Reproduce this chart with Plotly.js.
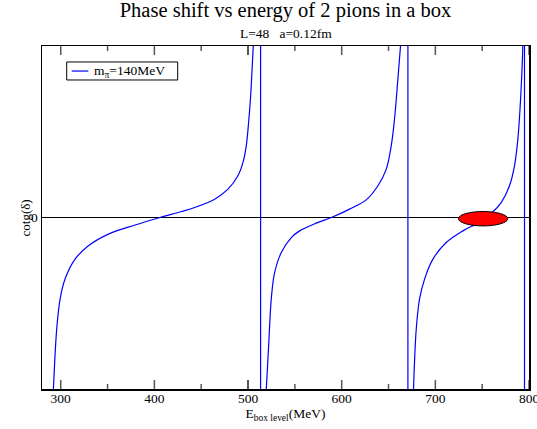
<!DOCTYPE html>
<html>
<head>
<meta charset="utf-8">
<script src="https://cdn.plot.ly/plotly-3.0.1.min.js"></script>
<style>html,body{margin:0;padding:0;background:#fff;}#chart{width:537px;height:429px;}</style>
</head>
<body>
<div id="chart"></div>
<script>
// Energy of the box level (MeV) and cotg(delta); null separates branches
const energyMeV = [
  292.2, 295.7, 299.3, 304.6, 315.3, 329.5, 350.9, 379.3, 406.0, 429.1, 443.0, 464.3, 478.6, 489.2, 494.6, 498.1, 500.6, 502.8, 504.5, 505.6, null,
  519.5, 522.0, 524.8, 528.4, 535.5, 546.2, 555.1, 572.8, 588.9, 608.4, 626.2, 638.7, 647.6, 652.9, 656.4, 660.0, 662.8, null,
  676.7, 679.6, 683.1, 688.5, 697.4, 711.6, 729.4, 747.2, 760.7, 770.3, 779.2, 784.5, 788.1, 790.6, 792.7, 793.4
];
const cotDelta = [
  -10.0, -6.51, -4.76, -3.59, -2.43, -1.65, -0.97, -0.44, 0.0, 0.35, 0.585, 1.07, 1.65, 2.43, 3.21, 4.18, 5.54, 7.10, 8.85, 10.0, null,
  -10.0, -7.48, -4.76, -3.20, -2.04, -1.17, -0.78, -0.33, 0.0, 0.49, 1.03, 1.85, 2.82, 4.18, 5.74, 8.07, 10.0, null,
  -10.0, -6.51, -4.76, -3.59, -2.43, -1.46, -0.78, -0.27, 0.29, 0.87, 1.85, 3.01, 4.57, 6.51, 8.85, 10.0
];
// free two-pion levels where cotg(delta) jumps from +inf to -inf
const poleEnergy = [513.4, 670.7, 795.2];
const poleCot = [-40, 40];
// highlighted resonance region (red ellipse)
const resonanceEnergy = 751;
const resonanceHalfWidth = 26.3;
const resonanceCot = -0.07;
const resonanceHalfHeight = 0.42;

const xTicks = [300, 400, 500, 600, 700, 800];
const xMinorTicks = [350, 450, 550, 650, 750];
const yTicks = [0];
const yTickText = ['0'];
const seriesName = 'm<sub>π</sub>=140MeV';

const blue = '#0000ff';
const tickGrey = '#555';
const serif = 'Liberation Serif, Times New Roman, serif';
const plotHeightPx = 343;
const majorLenPx = 9, minorLenPx = 5;

const poleX = [], poleY = [];
poleEnergy.forEach(p => { poleX.push(p, p, null); poleY.push(poleCot[0], poleCot[1], null); });

const traces = [
  {
    x: energyMeV, y: cotDelta, type: 'scatter', mode: 'lines',
    name: seriesName, showlegend: false,
    line: {color: blue, width: 1.2, shape: 'spline', smoothing: 1},
    connectgaps: false, hoverinfo: 'skip'
  },
  {
    x: poleX, y: poleY, type: 'scatter', mode: 'lines',
    showlegend: false,
    line: {color: blue, width: 1.2}, connectgaps: false, hoverinfo: 'skip'
  }
];

// inward tick marks on bottom and top frame, positioned on the x scale
function tickShapes(vals, lenPx) {
  const f = lenPx / plotHeightPx;
  const out = [];
  vals.forEach(v => {
    out.push({type: 'line', xref: 'x', yref: 'paper', layer: 'above', x0: v, x1: v, y0: 0, y1: f,
              line: {color: tickGrey, width: 1.5}});
    out.push({type: 'line', xref: 'x', yref: 'paper', layer: 'above', x0: v, x1: v, y0: 1 - f, y1: 1,
              line: {color: tickGrey, width: 1.5}});
  });
  return out;
}

// legend box drawn in paper coordinates
const legBox = {x0: 0.0507, x1: 0.2786, y0: 0.9009, y1: 0.9534};
const legLine = {x0: 0.061, x1: 0.095, y: 0.927};

const layout = {
  width: 537, height: 429,
  margin: {l: 42, r: 8, t: 46, b: 40},
  paper_bgcolor: '#fff', plot_bgcolor: '#fff',
  font: {family: serif, color: '#000', size: 13.5},
  showlegend: false,
  title: {
    text: 'Phase shift vs energy of 2 pions in a box',
    font: {family: serif, size: 20.5, color: '#000'},
    x: 0.5, xref: 'paper', xanchor: 'center',
    y: 1 - 10/429, yref: 'container', yanchor: 'middle'
  },
  annotations: [
    {
      text: 'L=48\u00a0\u00a0\u00a0a=0.12fm',
      xref: 'paper', yref: 'paper', x: 0.5, y: 1 + 13/343,
      xanchor: 'center', yanchor: 'middle', showarrow: false,
      font: {family: serif, size: 13.5, color: '#000'}
    },
    {
      text: seriesName,
      xref: 'paper', yref: 'paper', x: 0.1027, y: legLine.y,
      xanchor: 'left', yanchor: 'middle', showarrow: false,
      font: {family: serif, size: 13.5, color: '#000'}
    },
    {
      text: 'cotg(δ)', textangle: -90,
      xref: 'paper', yref: 'paper', x: -42/487 + 25/487, y: 0.5,
      xanchor: 'center', yanchor: 'middle', showarrow: false,
      font: {family: serif, size: 13, color: '#000'}
    }
  ],
  xaxis: {
    range: [280, 800], tickmode: 'array', tickvals: xTicks,
    ticks: 'inside', ticklen: majorLenPx, tickwidth: 1.5, tickcolor: tickGrey,
    showline: true, linecolor: '#000', linewidth: 1.5, mirror: 'allticks',
    showgrid: false, zeroline: false,
    tickfont: {family: serif, size: 13.5, color: '#000'},
    ticklabelstandoff: -4, ticklabeloverflow: 'allow',
    title: {text: 'E<sub>box level</sub>(MeV)', font: {family: serif, size: 13.5, color: '#000'}, standoff: 2}
  },
  yaxis: {
    range: [-10, 10], tickmode: 'array', tickvals: yTicks, ticktext: yTickText, ticks: '',
    showline: true, linecolor: '#000', linewidth: 1.5, mirror: true,
    showgrid: false, zeroline: true, zerolinecolor: '#000', zerolinewidth: 1.5,
    tickfont: {family: serif, size: 13.5, color: '#000'}
  },
  shapes: [
    ...tickShapes(xTicks, majorLenPx),
    ...tickShapes(xMinorTicks, minorLenPx),
    {
      type: 'circle', xref: 'x', yref: 'y', layer: 'above',
      x0: resonanceEnergy - resonanceHalfWidth, x1: resonanceEnergy + resonanceHalfWidth,
      y0: resonanceCot - resonanceHalfHeight, y1: resonanceCot + resonanceHalfHeight,
      fillcolor: '#ff0000', line: {color: '#000', width: 1}
    },
    {
      type: 'rect', xref: 'paper', yref: 'paper', layer: 'above',
      x0: legBox.x0, x1: legBox.x1, y0: legBox.y0, y1: legBox.y1,
      fillcolor: '#fff', line: {color: '#000', width: 1}
    },
    {
      type: 'line', xref: 'paper', yref: 'paper', layer: 'above',
      x0: legLine.x0, x1: legLine.x1, y0: legLine.y, y1: legLine.y,
      line: {color: blue, width: 1.2}
    }
  ]
};

Plotly.newPlot('chart', traces, layout, {displayModeBar: false, staticPlot: true});
</script>
</body>
</html>
